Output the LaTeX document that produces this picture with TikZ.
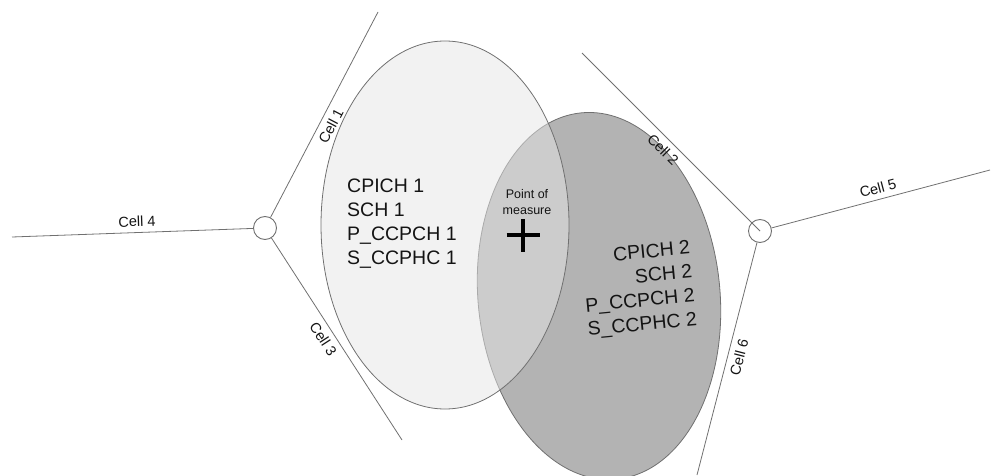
\documentclass[tikz,border=0pt]{standalone}
\usepackage{fontspec}
\setmainfont{Liberation Sans}
\usepackage{tikz}
\usetikzlibrary{positioning}

\definecolor{linegray}{RGB}{112,112,112}
\definecolor{areaA}{RGB}{229,229,229}
\definecolor{areaB}{RGB}{179,179,179}
\definecolor{textdark}{RGB}{20,20,20}

\tikzset{
	site/.style={circle, draw=linegray, fill=white, line width=0.9pt, minimum size=23pt, inner sep=0pt},
	edge/.style={draw=linegray, line width=0.8pt},
	celllabel/.style={font=\fontsize{14.5}{16}\selectfont, text=textdark, sloped, inner sep=1.5pt},
	chanlist/.style={font=\fontsize{19.5}{24}\selectfont, text=textdark, inner sep=0pt}
}

\begin{document}
\begin{tikzpicture}[x=1pt, y=1pt]
			\useasboundingbox (0,0) rectangle (991,475);

			% coverage areas
			\draw[draw=linegray, line width=0.8pt, fill=areaB, rotate around={5.5:(599,179)}] (599,179) ellipse (121 and 184);
			\draw[draw=linegray, line width=0.8pt, fill=areaA, fill opacity=0.5] (445,250) ellipse (124 and 184);

			\node[chanlist, align=left, anchor=west] (listA) at (347,251) {CPICH 1\\SCH 1\\P\_CCPCH 1\\S\_CCPHC 1};
			\node[chanlist, align=right, rotate=5.5] (listB) at (639,185) {CPICH 2\\SCH 2\\P\_CCPCH 2\\S\_CCPHC 2};

			\node[font=\fontsize{12.5}{15.5}\selectfont, text=textdark, align=center, inner sep=0pt] (measure) at (527,273) {Point of\\measure};
			\coordinate (pm) at (523,240);
			\draw[line width=3.5pt] (pm) ++(-16.5,0) -- ++(33,0);
			\draw[line width=3.5pt] (pm) ++(0,-16.5) -- ++(0,33);

			% sites and cell borders
			\node[site] (siteA) at (265,247) {};
			\node[site] (siteB) at (760,244) {};

			\coordinate (endA1) at (378,463);
			\coordinate (endA3) at (402,35);
			\coordinate (endA4) at (12,238);
			\coordinate (endB2) at (582,422);
			\coordinate (endB5) at (990,305);
			\coordinate (endB6) at (697,0);

			\draw[edge] (siteA) -- node[celllabel, pos=0.47, below=4pt] {Cell 1} (endA1);
			\draw[edge] (siteA) -- node[celllabel, pos=0.47, below=4pt] {Cell 3} (endA3);
			\draw[edge] (endA4) -- node[celllabel, pos=0.52, above=4pt] {Cell 4} (siteA);
			\draw[edge] (endB2) -- node[celllabel, pos=0.5, below=4pt] {Cell 2} (siteB.center);
			\draw[edge] (siteB) -- node[celllabel, pos=0.5, above=4pt] {Cell 5} (endB5);
			\draw[edge] (endB6) -- node[celllabel, pos=0.52, below=4pt] {Cell 6} (siteB);
		\end{tikzpicture}
\end{document}
